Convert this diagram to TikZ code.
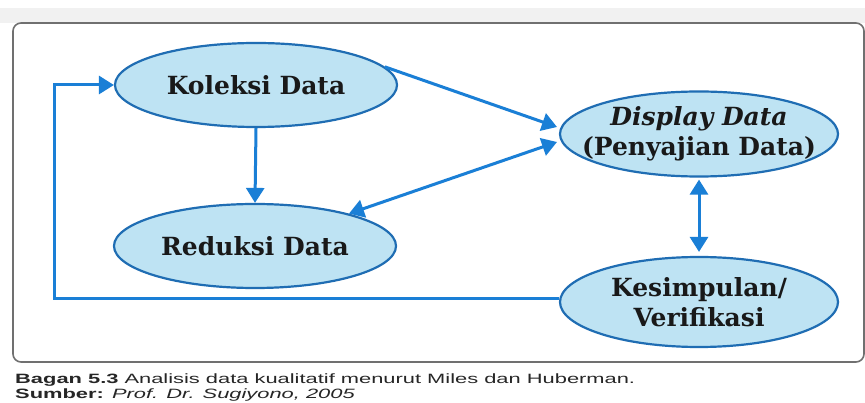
\documentclass[tikz,border=0pt]{standalone}
\usepackage{fontspec}
\usetikzlibrary{arrows.meta,shapes.geometric}
\newfontfamily\ellfont{DejaVu Serif}
\newfontfamily\capfont{Liberation Sans}
\definecolor{ellfill}{HTML}{BEE3F3}
\definecolor{elldraw}{HTML}{1F6DB3}
\definecolor{arrcol}{HTML}{1A7FD6}
\definecolor{framecol}{HTML}{707070}
\definecolor{bandcol}{HTML}{F1F1F1}
\tikzset{
  ellbox/.style={ellipse, draw=elldraw, fill=ellfill, line width=2.2pt, inner sep=0pt,
    minimum width=282pt, minimum height=84pt},
  elltext/.style={align=center, inner sep=0pt, text=black!90,
    font=\ellfont\bfseries\fontsize{25}{30}\selectfont},
  arr/.style={draw=arrcol, line width=3pt, -{Triangle[width=18pt,length=15pt]}},
  darr/.style={draw=arrcol, line width=3pt, {Triangle[width=18pt,length=15pt]}-{Triangle[width=18pt,length=15pt]}},
  captext/.style={anchor=base west, inner sep=0pt, text=black!85, font=\capfont\fontsize{13.5}{15}\selectfont}
}
\begin{document}
\begin{tikzpicture}[x=1pt,y=-1pt]
\useasboundingbox (0,0) rectangle (865,403);
\clip (0,0) rectangle (865,403);
\fill[white] (0,0) rectangle (865,403);
\fill[bandcol] (0,8) rectangle (865,23);
\draw[framecol, line width=1.6pt, rounded corners=8pt] (13,23) rectangle (864,362);
\node[ellbox] (kol) at (256,85) {};
\node[elltext] (kolt) at (kol.center) {Koleksi Data};
\node[ellbox] (red) at (255,246) {};
\node[elltext] (redt) at (red.center) {Reduksi Data};
\node[ellbox, minimum width=278pt, minimum height=85pt] (dis) at (699,134) {};
\node[elltext] (dist) at (dis.center) {\textit{Display Data}\\(Penyajian Data)};
\node[ellbox, minimum width=278pt, minimum height=90pt] (kes) at (699,302) {};
\node[elltext] (kest) at (kes.center) {Kesimpulan/\\Verifikasi};
\coordinate (d1) at (557,127);
\coordinate (d2) at (557,142);
\coordinate (loopc) at (54,299);
\draw[arr] (kol.8) -- (d1);
\draw[darr] (d2) -- (red.19);
\draw[arr] (kol.south) -- (red.north);
\draw[darr, shorten <=2pt, shorten >=4pt] (dis.south) -- (kes.north);
\draw[arr, line join=miter] (kes.west |- loopc) -- (loopc) |- (kol.west);
\node[captext] (cap1) at (15,384) {\scalebox{1.62}[1]{\textbf{Bagan 5.3} Analisis data kualitatif menurut Miles dan Huberman.}};
\node[captext] (cap2) at (15,399) {\scalebox{1.62}[1]{\textbf{Sumber:} \textit{Prof. Dr. Sugiyono, 2005}}};
\end{tikzpicture}
\end{document}
